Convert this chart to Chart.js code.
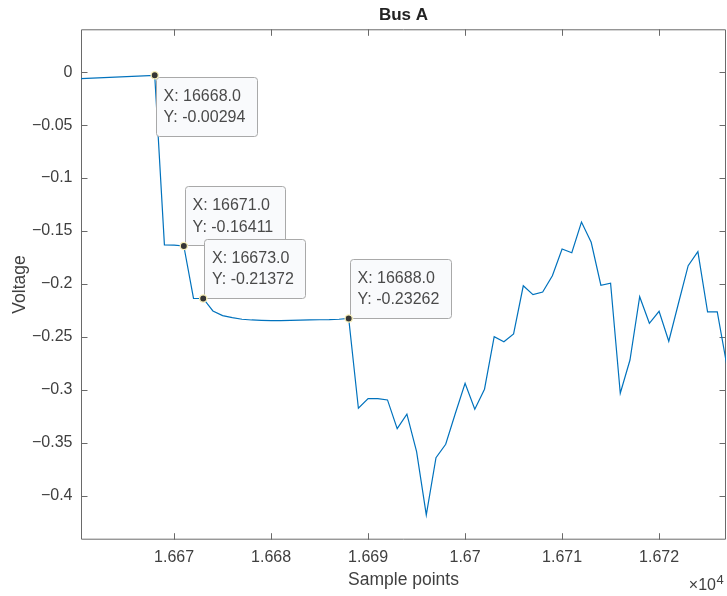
<!DOCTYPE html>
<html>
<head>
	<title>Bus A</title>
	<script src="https://cdn.jsdelivr.net/npm/chart.js@4.4.0/dist/chart.umd.min.js"></script>
	<style>
		html, body {margin: 0; padding: 0; background: #fff;}
		#wrap {width: 727px; height: 596px;}
	</style>
</head>
<body>
<div id="wrap"><canvas id="myChart" width="727" height="596"></canvas></div>

<script>
// sample numbers (x) and measured voltage (y)
var samples = [16660, 16668, 16669, 16670, 16671, 16672, 16673, 16674, 16675, 16676,
	16677, 16678, 16679, 16680, 16681, 16682, 16683, 16684, 16685, 16686,
	16687, 16688, 16689, 16690, 16691, 16692, 16693, 16694, 16695, 16696,
	16697, 16698, 16699, 16700, 16701, 16702, 16703, 16704, 16705, 16706,
	16707, 16708, 16709, 16710, 16711, 16712, 16713, 16714, 16715, 16716,
	16717, 16718, 16719, 16720, 16721, 16722, 16723, 16724, 16725, 16726,
	16727];
var voltage = [-0.0063, -0.00294, -0.1631, -0.1633, -0.16411, -0.2137, -0.21372, -0.2255, -0.2299, -0.2318,
	-0.2333, -0.2340, -0.2343, -0.2347, -0.2347, -0.2343, -0.2342, -0.2340, -0.2338, -0.2337,
	-0.2333, -0.23262, -0.3174, -0.3083, -0.3083, -0.3095, -0.3366, -0.3230, -0.3584, -0.4181,
	-0.3640, -0.3514, -0.3221, -0.2938, -0.3183, -0.2994, -0.2498, -0.2545, -0.2472, -0.2017,
	-0.2101, -0.2076, -0.1922, -0.1670, -0.1705, -0.1415, -0.1606, -0.2012, -0.1993, -0.3032,
	-0.2718, -0.2120, -0.2371, -0.2258, -0.2541, -0.2182, -0.1827, -0.1695, -0.2264, -0.2264,
	-0.2774];

// data tips placed on these samples
var tipSamples = [16668, 16671, 16673, 16688];

// axis ticks
var xTicks = [16670, 16680, 16690, 16700, 16710, 16720];
var xTickLabels = ["1.667", "1.668", "1.669", "1.67", "1.671", "1.672"];
var yTicks = [0, -0.05, -0.1, -0.15, -0.2, -0.25, -0.3, -0.35, -0.4];
var yTickLabels = ["0", "\u22120.05", "\u22120.1", "\u22120.15", "\u22120.2", "\u22120.25", "\u22120.3", "\u22120.35", "\u22120.4"];

var FONT = "'Liberation Sans', Arial, Helvetica, sans-serif";
var AXIS_COLOR = "#6a6a6a";
var TEXT_COLOR = "#404040";
// where each tip box sits relative to its point
var tipPlacement = ["below", "above", "above", "above"];

var linePoints = [];
for (var i = 0; i < samples.length; i++) {
	linePoints.push({x: samples[i], y: voltage[i]});
}
var tipPoints = [];
for (var i = 0; i < tipSamples.length; i++) {
	var k = samples.indexOf(tipSamples[i]);
	tipPoints.push({x: samples[k], y: voltage[k]});
}

// box with inward ticks, like a matlab axes
var boxPlugin = {
	id: 'box',
	beforeDatasetsDraw: function(chart) {
		var ctx = chart.ctx, a = chart.chartArea;
		var xs = chart.scales.x, ys = chart.scales.y;
		var tl = 6.5;
		ctx.save();
		ctx.strokeStyle = AXIS_COLOR;
		ctx.lineWidth = 1;
		ctx.beginPath();
		ctx.rect(a.left + 0.5, a.top + 0.5, a.right - a.left - 1, a.bottom - a.top - 1);
		xTicks.forEach(function(v) {
			var px = Math.round(xs.getPixelForValue(v)) + 0.5;
			ctx.moveTo(px, a.bottom); ctx.lineTo(px, a.bottom - tl);
			ctx.moveTo(px, a.top); ctx.lineTo(px, a.top + tl);
		});
		yTicks.forEach(function(v) {
			var py = Math.round(ys.getPixelForValue(v)) + 0.5;
			ctx.moveTo(a.left, py); ctx.lineTo(a.left + tl, py);
			ctx.moveTo(a.right, py); ctx.lineTo(a.right - tl, py);
		});
		ctx.stroke();
		ctx.restore();
	},
	afterDatasetDraw: function(chart, args) {
		// draw the tip boxes over the line, under the markers
		if (args.index !== 1) return;
		var ctx = chart.ctx;
		var xs = chart.scales.x, ys = chart.scales.y;
		ctx.save();
		ctx.font = "16px " + FONT;
		tipPoints.forEach(function(p, i) {
			var px = xs.getPixelForValue(p.x), py = ys.getPixelForValue(p.y);
			var l1 = "X: " + p.x.toFixed(1);
			var l2 = "Y: " + p.y.toFixed(5);
			var w = Math.max(ctx.measureText(l1).width, ctx.measureText(l2).width) + 19;
			var h = 58.5;
			var bx = px + 1.2;
			var by = tipPlacement[i] === "below" ? py + 1.5 : py - 1 - h;
			ctx.beginPath();
			ctx.roundRect(Math.round(bx) + 0.5, Math.round(by) + 0.5, Math.round(w), Math.round(h), 3);
			ctx.fillStyle = "#f9fafc";
			ctx.fill();
			ctx.strokeStyle = "#a9a9a9";
			ctx.lineWidth = 1;
			ctx.stroke();
			ctx.fillStyle = "#4a4a4a";
			ctx.textBaseline = "middle";
			ctx.textAlign = "left";
			ctx.fillText(l1, bx + 7.6, by + 19.5);
			ctx.fillText(l2, bx + 7.6, by + 41);
		});
		ctx.restore();
	},
	afterDraw: function(chart) {
		// exponent label under the x axis
		var ctx = chart.ctx;
		ctx.save();
		ctx.fillStyle = TEXT_COLOR;
		ctx.textBaseline = "alphabetic";
		ctx.textAlign = "right";
		ctx.font = "16px " + FONT;
		ctx.fillText("\u00d710", 716, 590);
		ctx.textAlign = "left";
		ctx.font = "13px " + FONT;
		ctx.fillText("4", 716.5, 583.5);
		ctx.restore();
	}
};

var ctx = document.getElementById('myChart').getContext('2d');
var chart = new Chart(ctx, {
	type: 'line',
	data: {
		datasets: [{
			// tip markers (index 0 is drawn on top)
			type: 'scatter',
			data: tipPoints,
			showLine: false,
			pointRadius: 3.6,
			pointHoverRadius: 3.6,
			pointBackgroundColor: '#353535',
			pointBorderColor: '#f7efb8',
			pointBorderWidth: 1.3
		}, {
			data: linePoints,
			borderColor: '#0072BD',
			borderWidth: 1.2,
			pointRadius: 0,
			tension: 0,
			fill: false
		}]
	},
	options: {
		responsive: false,
		animation: false,
		devicePixelRatio: 1,
		events: [],
		layout: {autoPadding: false, padding: {left: 0, right: 1, top: 0, bottom: 0}},
		plugins: {
			legend: {display: false},
			tooltip: {enabled: false},
			title: {
				display: true,
				text: 'Bus A',
				fullSize: false,
				color: '#222',
				font: {family: FONT, size: 17, weight: 'bold', lineHeight: 1.2},
				padding: {top: 5.6, bottom: 3.3}
			}
		},
		scales: {
			x: {
				type: 'linear',
				min: 16660.4,
				max: 16726.9,
				grid: {display: false, drawTicks: false},
				border: {display: false},
				afterFit: function(s) {
					s.height = 56.3;
					s.paddingLeft = 0;
					s.paddingRight = 0;
				},
				afterBuildTicks: function(s) {
					s.ticks = xTicks.map(function(v) { return {value: v}; });
				},
				ticks: {
					autoSkip: false,
					maxRotation: 0,
					padding: 8,
					color: TEXT_COLOR,
					font: {family: FONT, size: 16},
					callback: function(v, i) { return xTickLabels[i]; }
				},
				title: {
					display: true,
					text: 'Sample points',
					color: TEXT_COLOR,
					font: {family: FONT, size: 17.5, lineHeight: 1.2},
					padding: {top: 0, bottom: 5.5}
				}
			},
			y: {
				type: 'linear',
				min: -0.4415,
				max: 0.0405,
				grid: {display: false, drawTicks: false},
				border: {display: false},
				afterFit: function(s) { s.width = 81; },
				afterBuildTicks: function(s) {
					s.ticks = yTicks.map(function(v) { return {value: v}; });
				},
				ticks: {
					autoSkip: false,
					padding: 8.5,
					color: TEXT_COLOR,
					font: {family: FONT, size: 16},
					callback: function(v, i) { return yTickLabels[i]; }
				},
				title: {
					display: true,
					text: 'Voltage',
					color: TEXT_COLOR,
					font: {family: FONT, size: 17.5, lineHeight: 1.2},
					padding: {top: 9.5, bottom: 0}
				}
			}
		}
	},
	plugins: [boxPlugin]
});
</script>

</body>
</html>
